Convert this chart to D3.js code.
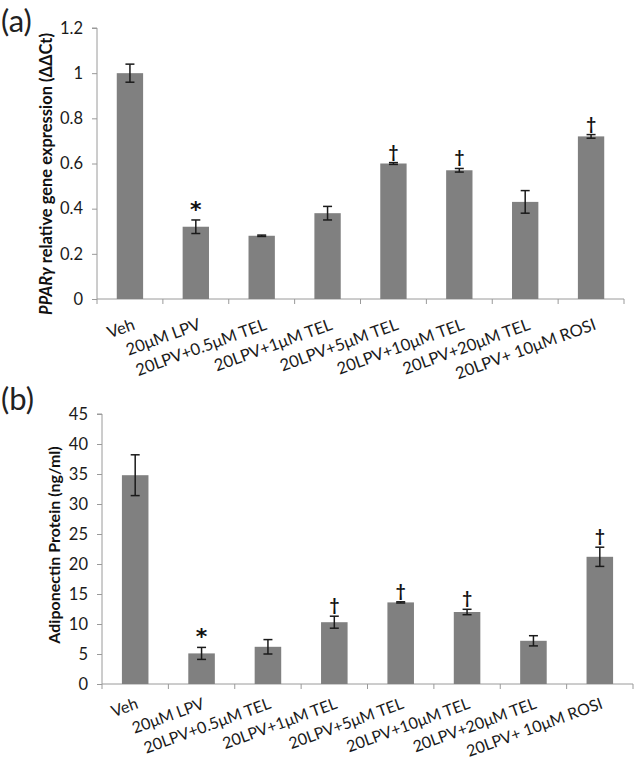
<!DOCTYPE html>
<html>
<head>
<meta charset="utf-8">
<script src="https://cdn.jsdelivr.net/npm/d3@7"></script>
<style>
  html, body { margin: 0; padding: 0; background: #fff; }
  svg { display: block; }
  text { font-family: Lato, "Open Sans", "DejaVu Sans", sans-serif; }
</style>
</head>
<body>
<svg id="chart" width="638" height="763"></svg>
<script>
const categories = ["Veh", "20\u03BCM LPV", "20LPV+0.5\u03BCM TEL", "20LPV+1\u03BCM TEL", "20LPV+5\u03BCM TEL", "20LPV+10\u03BCM TEL", "20LPV+20\u03BCM TEL", "20LPV+ 10\u03BCM ROSI"];

const pparValues = [1.0, 0.32, 0.28, 0.38, 0.60, 0.57, 0.43, 0.72];
const pparErrors = [0.04, 0.03, 0.003, 0.03, 0.004, 0.008, 0.05, 0.008];
const pparMarks  = ["", "*", "", "", "\u2020", "\u2020", "", "\u2020"];
const pparTicks  = [0, 0.2, 0.4, 0.6, 0.8, 1, 1.2];

const adipoValues = [34.8, 5.1, 6.2, 10.3, 13.6, 12.0, 7.2, 21.2];
const adipoErrors = [3.4, 1.0, 1.2, 1.0, 0.1, 0.45, 0.85, 1.6];
const adipoMarks  = ["", "*", "", "\u2020", "\u2020", "\u2020", "", "\u2020"];
const adipoTicks  = [0, 5, 10, 15, 20, 25, 30, 35, 40, 45];

const svg = d3.select("#chart");
const AXIS = "#9a9a9a";
const BAR = "#808080";

function panel(cfg) {
  const g = svg.append("g");
  const x = d3.scaleBand().domain(categories).range([cfg.x0, cfg.x1]).paddingInner(0.6).paddingOuter(0.3);
  const y = d3.scaleLinear().domain([0, cfg.max]).range([cfg.y0, cfg.yTop]);
  const step = x.step();

  // y axis
  const yAxis = d3.axisLeft(y).tickValues(cfg.ticks).tickSize(5).tickPadding(9)
    .tickFormat(d => String(d));
  const ya = g.append("g").attr("transform", `translate(${cfg.x0},0)`).call(yAxis);
  ya.select(".domain").attr("stroke", AXIS).attr("d", `M-5,${cfg.yTop}H0V${cfg.y0}`);
  ya.selectAll(".tick line").attr("stroke", AXIS);
  ya.selectAll(".tick text").attr("fill", "#1a1a1a").style("font-size", "16.5px");

  // x axis
  const bounds = d3.range(categories.length + 1).map(i => cfg.x0 + i * step);
  g.append("line").attr("x1", cfg.x0).attr("x2", cfg.x1).attr("y1", cfg.y0).attr("y2", cfg.y0)
    .attr("stroke", AXIS);
  g.selectAll(".xt").data(bounds).join("line")
    .attr("x1", d => d).attr("x2", d => d).attr("y1", cfg.y0).attr("y2", cfg.y0 + 5)
    .attr("stroke", AXIS);

  // bars
  g.selectAll(".bar").data(cfg.values).join("rect")
    .attr("x", (d, i) => x(categories[i]))
    .attr("width", x.bandwidth())
    .attr("y", d => y(d))
    .attr("height", d => cfg.y0 - y(d))
    .attr("fill", BAR);

  // error bars
  const cap = 4.5;
  cfg.values.forEach((v, i) => {
    const cx = x(categories[i]) + x.bandwidth() / 2;
    const e = cfg.errors[i];
    const top = y(v + e), bot = y(v - e);
    g.append("line").attr("x1", cx).attr("x2", cx).attr("y1", top).attr("y2", bot)
      .attr("stroke", "#1a1a1a").attr("stroke-width", 1.5);
    [top, bot].forEach(yy => g.append("line").attr("x1", cx - cap).attr("x2", cx + cap)
      .attr("y1", yy).attr("y2", yy).attr("stroke", "#1a1a1a").attr("stroke-width", 1.5));
    if (cfg.marks[i]) {
      const star = cfg.marks[i] === "*";
      g.append("text").attr("x", cx).attr("y", star ? top - 3 : top - 5).attr("text-anchor", "middle")
        .attr("fill", "#111").style("font-size", star ? "22px" : "17px").style("font-weight", "bold")
        .style("font-family", star ? "'DejaVu Sans', sans-serif" : null)
        .text(cfg.marks[i]);
    }
  });

  // x labels
  categories.forEach((c, i) => {
    const cx = x(c) + x.bandwidth() / 2;
    g.append("text")
      .attr("transform", `translate(${cx + cfg.lx},${cfg.y0 + cfg.ly}) rotate(-20)`)
      .attr("text-anchor", "end").attr("fill", "#1a1a1a").style("font-size", cfg.lfs)
      .text(c);
  });

  // y title
  const t = g.append("text")
    .attr("transform", `translate(${cfg.tx},${cfg.ty}) rotate(-90)`)
    .attr("text-anchor", "middle").attr("fill", "#111")
    .style("font-size", cfg.tfs).style("font-weight", "bold");
  cfg.title.forEach(p => t.append("tspan").style("font-style", p.italic ? "italic" : "normal").text(p.t));

  // panel label
  svg.append("text").attr("x", cfg.px).attr("y", cfg.py).attr("fill", "#222")
    .style("font-size", "31px").text(cfg.label);
}

panel({
  x0: 97, x1: 624, y0: 299, yTop: 28, max: 1.2,
  ticks: pparTicks, values: pparValues, errors: pparErrors, marks: pparMarks,
  lx: 6, ly: 30, lfs: "16.5px", tx: 52, ty: 174, tfs: "16.5px",
  title: [{t: "PPAR\u03B3", italic: true}, {t: " relative gene expression (\u0394\u0394Ct)", italic: false}],
  label: "(a)", px: 1, py: 32
});

panel({
  x0: 102, x1: 633, y0: 684, yTop: 414, max: 45,
  ticks: adipoTicks, values: adipoValues, errors: adipoErrors, marks: adipoMarks,
  lx: 4, ly: 24, lfs: "16px", tx: 60, ty: 545, tfs: "16px",
  title: [{t: "Adiponectin Protein (ng/ml)", italic: false}],
  label: "(b)", px: 1, py: 410
});
</script>
</body>
</html>
